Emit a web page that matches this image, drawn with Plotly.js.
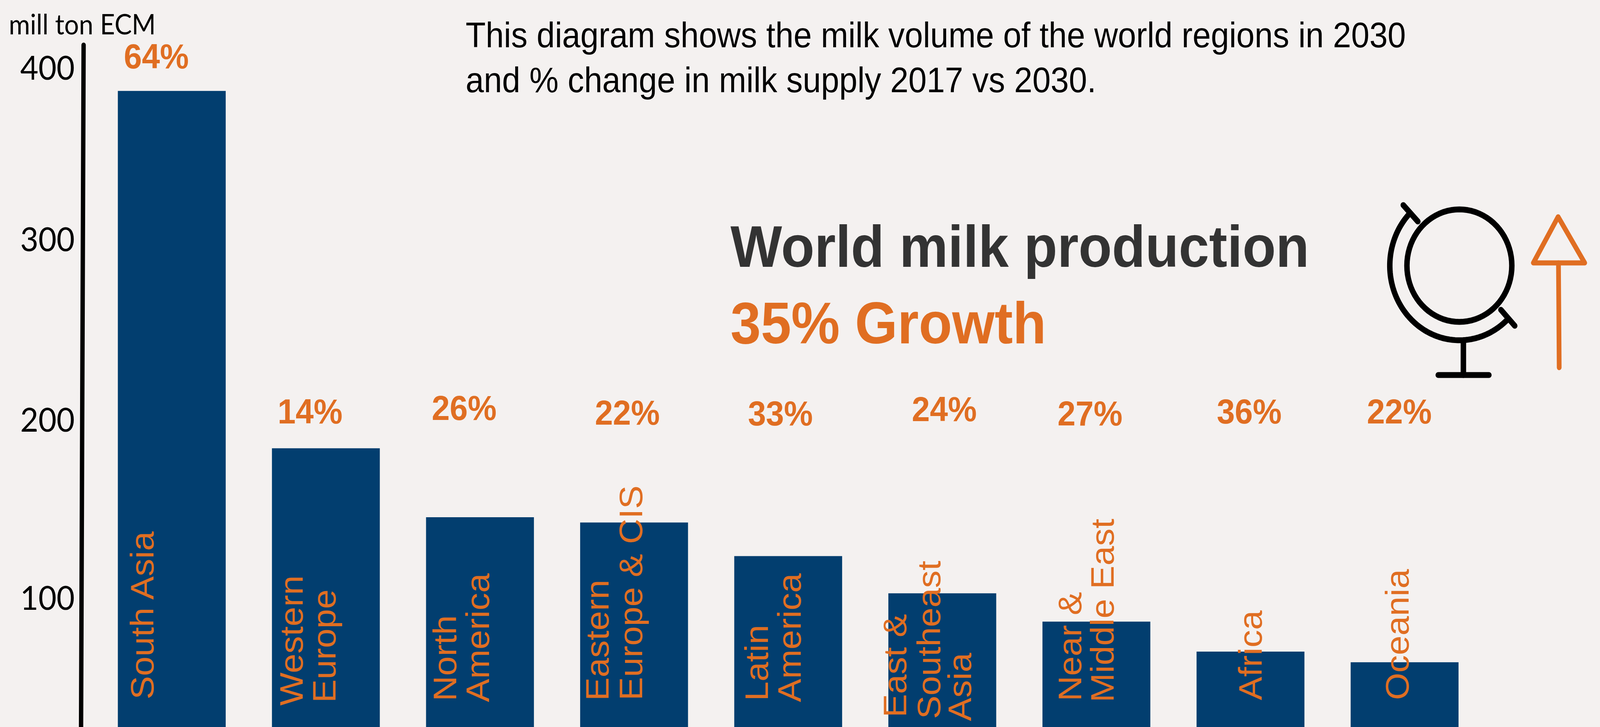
<!DOCTYPE html>
<html><head><meta charset="utf-8">
<script src="https://cdn.plot.ly/plotly-3.0.0.min.js"></script>
<style>html,body{margin:0;padding:0;background:#F4F1F0;overflow:hidden}
#chart{transform-origin:0 0}
.shapelayer path{stroke-linecap:round;stroke-linejoin:round}</style>
</head><body><div id="chart" style="width:4392px;height:1861px"></div>
<script>
var regions = ["South Asia","Western Europe","North America","Eastern Europe & CIS","Latin America","East & Southeast Asia","Near & Middle East","Africa","Oceania"];
var milk2030 = [387,185,146,143,124,103,87,70,64];
var growthPct = ["64%","14%","26%","22%","33%","24%","27%","36%","22%"];
var yTickLabels = ["100","200","300","400"];
var yTickPlaces = [100.4,201,303,400];

var W=4392,H=1861;
// the window may be narrower than the reference: fit the whole picture to its width
document.getElementById('chart').style.transform='scaleX('+Math.min(1,window.innerWidth/W)+')';
function px(x){return x/W;} function py(y){return 1-y/H;}
var NAVY='#023E6F',ORANGE='#E06E22',BG='#F4F1F0';
var SANS='"Liberation Sans",Arial,sans-serif', LATO='Lato,sans-serif';

function txt(t,cx,cy,size,color,bold,font,xa){
  return {text:bold?'<b>'+t+'</b>':t,xref:'paper',yref:'paper',x:px(cx),y:py(cy),xanchor:xa||'center',yanchor:'middle',showarrow:false,font:{family:font||SANS,size:size,color:color}};
}
var ann=[];
ann.push(txt('mill ton ECM',226,61,71,'#000',false,LATO));
ann.push(txt('This diagram shows the milk volume of the world regions in 2030',1276,90,90,'#000',false,SANS,'left'));
ann.push(txt('and % change in milk supply 2017 vs 2030.',1276,205,90,'#000',false,SANS,'left'));
ann.push(txt('World milk production',2003,631,150,'#333333',true,SANS,'left'));
ann.push(txt('35% Growth',2003,827,150,ORANGE,true,SANS,'left'));

var pctPos=[[429,144],[851,1053],[1274,1044],[1722,1056],[2142,1058],[2592,1047],[2992,1058],[3429,1053],[3841,1053]];
growthPct.forEach(function(p,i){ann.push(txt(p,pctPos[i][0],pctPos[i][1],89,ORANGE,true));});

// rotated category labels, one annotation per line: [text, baseline x, start y]
var catLines=[["South Asia",425,1787],["Western",835,1803],["Europe",925,1795],["North",1256,1791],["America",1346,1794],
["Eastern",1675,1790],["Europe & CIS",1767,1789],["Latin",2112,1791],["America",2202,1794],["East &",2491,1833],["Southeast",2584,1837],["Asia",2670,1842],
["Near &",2972,1791],["Middle East",3061,1794],["Africa",3467,1789],["Oceania",3871,1788]];
catLines.forEach(function(l){
  ann.push({text:l[0],xref:'paper',yref:'paper',x:px(l[1]-35),y:py(l[2]+6),xanchor:'center',yanchor:'bottom',textangle:-90,showarrow:false,font:{family:SANS,size:90,color:ORANGE}});
});

function line(x0,y0,x1,y1,c,w){return {type:'line',xref:'paper',yref:'paper',x0:px(x0),y0:py(y0),x1:px(x1),y1:py(y1),line:{color:c,width:w}};}
function arcPath(cx,cy,r,a0,a1){var s='';for(var k=0;k<=80;k++){var a=(a0+(a1-a0)*k/80)*Math.PI/180;s+=(k?'L':'M')+px(cx+r*Math.cos(a))+','+py(cy+r*Math.sin(a));}return s;}
var shapes=[
 line(229.5,115,222.5,1861,'#000',12),
 {type:'path',xref:'paper',yref:'paper',path:arcPath(4006,680,144,0,360)+'Z',line:{color:'#000',width:15}},
 {type:'path',xref:'paper',yref:'paper',path:arcPath(4006,680,191,223,47.5),line:{color:'#000',width:15}},
 line(3852,525,3892,567,'#000',15), line(4120,793,4158,834,'#000',15),
 line(4017,878,4017,960,'#000',15), line(3948,960,4087,960,'#000',15),
 {type:'path',xref:'paper',yref:'paper',path:'M'+px(4277)+','+py(555)+'L'+px(4350)+','+py(673)+'L'+px(4209)+','+py(673)+'Z',line:{color:ORANGE,width:13}},
 line(4278,673,4280,941,ORANGE,13)
];

var trace={type:'bar',x:[0,1,2,3,4,5,6,7,8],y:milk2030,width:0.7,marker:{color:NAVY,line:{width:0}},hoverinfo:'x+y',text:regions,textposition:'none'};
var layout={width:W,height:H,margin:{l:0,r:0,t:0,b:0,pad:0},paper_bgcolor:BG,plot_bgcolor:'rgba(0,0,0,0)',showlegend:false,
 xaxis:{range:[-1.1147,9.268],showticklabels:false,showgrid:false,zeroline:false,showline:false,ticks:''},
 yaxis:{range:[27.4,438.4],tickvals:yTickPlaces,ticktext:yTickLabels,showgrid:false,zeroline:false,showline:false,ticks:'',anchor:'free',position:205/W,tickfont:{family:LATO,size:86,color:'#000'}},
 annotations:ann,shapes:shapes};
Plotly.newPlot('chart',[trace],layout,{displayModeBar:false,staticPlot:true});
</script></body></html>
